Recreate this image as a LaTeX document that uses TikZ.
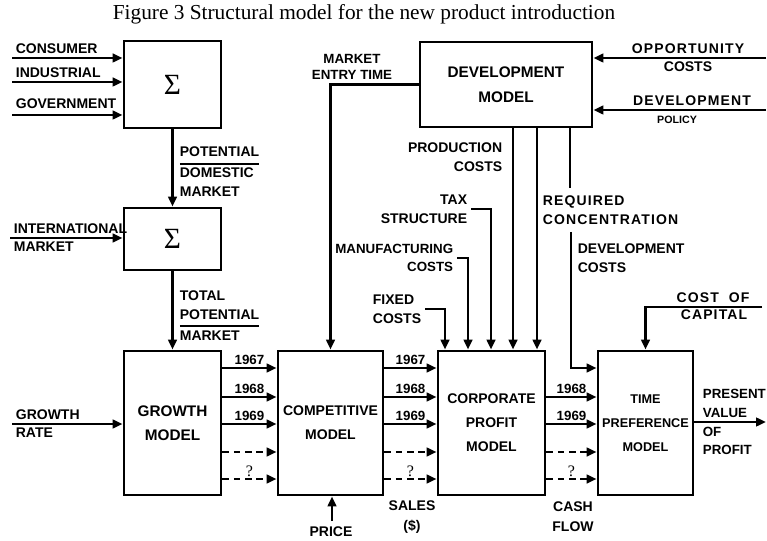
\documentclass[tikz,border=0pt]{standalone}
\usepackage{fontspec}
\setmainfont{Liberation Serif}
\newfontfamily\lblfont{Liberation Sans}
\newfontfamily\lblwide[LetterSpace=8]{Liberation Sans}
\usetikzlibrary{arrows.meta,positioning}
\tikzset{
  every picture/.style={line width=1.8pt, line join=miter,
    >={Triangle[length=7.5pt,width=6.5pt]}},
  % Kästen
  blk/.style={draw, line width=2.2pt, align=center, inner sep=2pt,
    font=\lblfont\bfseries\fontsize{10.5}{18}\selectfont},
  sig/.style={font=\rmfamily\fontsize{22}{22}\selectfont},
  % Beschriftungen
  lbl/.style={inner sep=2pt, font=\lblfont\bfseries\fontsize{10.5}{14}\selectfont},
  wlbl/.style={lbl, font=\lblwide\bfseries\fontsize{10.5}{14}\selectfont},
  yr/.style={inner sep=1.5pt, font=\lblfont\bfseries\fontsize{10}{12}\selectfont},
  qm/.style={inner sep=1pt, font=\rmfamily\fontsize{12}{12}\selectfont},
  dsh/.style={dash pattern=on 5pt off 3.5pt},
}
\begin{document}
\begin{tikzpicture}[x=0.75pt, y=-0.75pt]
  \useasboundingbox (0,0) rectangle (767,541);
  \node[font=\fontsize{16}{18}\selectfont] (title) at (364,14)
    {Figure 3 Structural model for the new product introduction};

  % Kästen
  \node[blk, sig, minimum width=72.75pt, minimum height=65.25pt] (sumA) at (172.5,84.5) {Σ};
  \node[blk, sig, minimum width=72.75pt, minimum height=46.5pt] (sumB) at (172.5,239) {Σ};
  \node[blk, minimum width=72.75pt, minimum height=108pt,
    font=\lblfont\bfseries\fontsize{11.5}{18}\selectfont] (grow) at (172.5,423) {GROWTH\\MODEL};
  \node[blk, minimum width=78.75pt, minimum height=108pt] (comp) at (330.5,423) {COMPETITIVE\\MODEL};
  \node[blk, minimum width=80.25pt, minimum height=108pt] (corp) at (491.5,423) {CORPORATE\\PROFIT\\MODEL};
  \node[blk, minimum width=71.25pt, minimum height=108pt,
    font=\lblfont\bfseries\fontsize{9.5}{18}\selectfont] (tpref) at (645.5,423) {TIME\\PREFERENCE\\MODEL};
  \node[blk, minimum width=129pt, minimum height=63.75pt,
    font=\lblfont\bfseries\fontsize{11.5}{19}\selectfont] (devm) at (506,84.5) {DEVELOPMENT\\MODEL};

  % Märkte
  \node[lbl, anchor=south west] (cons) at (12,58) {CONSUMER};
  \node[lbl, anchor=south west] (indu) at (12,82) {INDUSTRIAL};
  \node[lbl, anchor=south west, inner ysep=4pt] (govt) at (12,115) {GOVERNMENT};
  \foreach \n in {cons,indu,govt}
    \draw[->] (\n.south west) -- (sumA.west |- \n.south west);
  \draw[->] (sumA) -- (sumB);
  \node[lbl, anchor=north west] (potdom) at (176,140)
    {\setlength\arrayrulewidth{1.5pt}\begin{tabular}{@{}l@{}}POTENTIAL\\\hline DOMESTIC\\MARKET\end{tabular}};
  \coordinate (intin) at (10,238);
  \node[lbl, anchor=south west] (intl) at (intin) {INTERNATIONAL};
  \node[lbl, anchor=north west] (intm) at (intin) {MARKET};
  \draw[->] (intin) -- (sumB.west |- intin);
  \draw[->] (sumB) -- (grow);
  \node[lbl, anchor=north west] (totpot) at (176,284)
    {\setlength\arrayrulewidth{1.5pt}\begin{tabular}{@{}l@{}}TOTAL\\POTENTIAL\\\hline MARKET\end{tabular}};
  \coordinate (grin) at (12,424);
  \node[lbl, anchor=south west] (grw) at (grin) {GROWTH};
  \node[lbl, anchor=north west] (grr) at (grin) {RATE};
  \draw[->] (grin) -- (grow.west |- grin);

  % Jahre
  \foreach \a/\b in {grow/comp, comp/corp} {
    \foreach \y/\yr in {368/1967, 397/1968, 424/1969}
      \draw[->] (\a.east |- 0,\y) -- node[yr, above] (\a\yr) {\yr} (\b.west |- 0,\y);
    \draw[->, dsh] (\a.east |- 0,452) -- (\b.west |- 0,452);
    \draw[->, dsh] (\a.east |- 0,479) -- node[qm, above] (\a q) {?} (\b.west |- 0,479);
  }
  \foreach \y/\yr in {397/1968, 424/1969}
    \draw[->] (corp.east |- 0,\y) -- node[yr, above] (corp\yr) {\yr} (tpref.west |- 0,\y);
  \draw[->, dsh] (corp.east |- 0,452) -- (tpref.west |- 0,452);
  \draw[->, dsh] (corp.east |- 0,479) -- node[qm, above] (corpq) {?} (tpref.west |- 0,479);

  % Entwicklungsmodell
  \draw[->] (devm.west) -| (comp.north);
  \node[lbl, align=center, font=\lblfont\bfseries\fontsize{10}{11.5}\selectfont] (mkt) at (352,67) {MARKET\\ENTRY TIME};
  \coordinate (oppin) at (766,58);
  \node[wlbl, anchor=south] (opp) at (688,58) {OPPORTUNITY};
  \node[lbl, anchor=north] (oppc) at (688,58) {COSTS};
  \draw[->] (oppin) -- (devm.east |- oppin);
  \coordinate (dpin) at (766,110);
  \node[wlbl, anchor=south] (dpol) at (692,110) {DEVELOPMENT};
  \node[lbl, anchor=north, font=\lblfont\bfseries\fontsize{8}{10}\selectfont] (dpolc) at (677,112) {POLICY};
  \draw[->] (dpin) -- (devm.east |- dpin);

  % Eingänge Gewinnmodell
  \draw[->] (devm.south -| 513,0) -- (corp.north -| 513,0);
  \draw[->] (devm.south -| 537,0) -- (corp.north -| 537,0);
  \node[lbl, align=right, anchor=east] (prod) at (506,157) {PRODUCTION\\COSTS};
  \node[lbl, align=right, anchor=east] (tax) at (471,209) {TAX\\STRUCTURE};
  \draw[->] (tax.east) -| (corp.north -| 491,0);
  \node[lbl, align=right, anchor=east, font=\lblfont\bfseries\fontsize{10}{14}\selectfont] (manuf) at (457,258) {MANUFACTURING\\COSTS};
  \draw[->] (manuf.east) -| (corp.north -| 468,0);
  \node[lbl, align=left, anchor=east] (fixed) at (425,309) {FIXED\\COSTS};
  \draw[->] (fixed.east) -| (corp.north -| 445,0);
  \coordinate (reqe) at (570,188);
  \draw (devm.south -| reqe) -- (reqe);
  \node[wlbl, align=left, anchor=west] (req) at (539,210) {REQUIRED\\CONCENTRATION};
  \coordinate (devc) at (571,232);
  \node[lbl, align=left, anchor=west] (devcost) at (574,258) {DEVELOPMENT\\COSTS};
  \draw[->] (devc) |- (tpref.west |- 0,368);

  % Zeitpräferenz
  \coordinate (capin) at (762,307);
  \node[wlbl, anchor=south] (cap) at (713,307) {COST~~OF};
  \node[wlbl, anchor=north] (capc) at (714,306) {CAPITAL};
  \draw[->] (capin) -| (tpref.north);
  \coordinate (pvout) at (766,422);
  \draw[->] (tpref.east |- pvout) -- (pvout);
  \node[lbl, align=left, anchor=south west, font=\lblfont\bfseries\fontsize{10}{14}\selectfont] (pv) at (699,421) {PRESENT\\VALUE};
  \node[lbl, align=left, anchor=north west, font=\lblfont\bfseries\fontsize{10}{14}\selectfont] (pvo) at (699,423) {OF\\PROFIT};

  % unten
  \coordinate (prin) at (332,521);
  \draw[->] (prin) -- (comp.south -| prin);
  \node[lbl] (price) at (331,532) {PRICE};
  \node[lbl, align=center, font=\lblfont\bfseries\fontsize{10.5}{15}\selectfont] (sales) at (412,517) {SALES\\(\$)};
  \node[lbl, align=center, font=\lblfont\bfseries\fontsize{10.5}{15}\selectfont] (cash) at (573,517) {CASH\\FLOW};
\end{tikzpicture}
\end{document}
